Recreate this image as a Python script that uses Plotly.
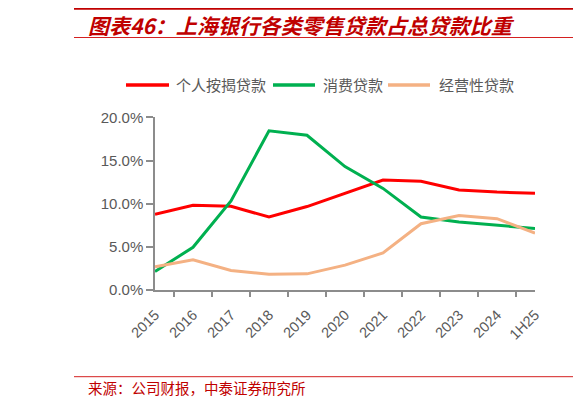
import plotly.graph_objects as go

W, H = 581, 405
OFF = 8  # page body margin of the browser

categories = ["2015", "2016", "2017", "2018", "2019", "2020", "2021", "2022", "2023", "2024", "1H25"]
mortgage = [0.0877, 0.0982, 0.0970, 0.0846, 0.0967, 0.1119, 0.1275, 0.1260, 0.1160, 0.1135, 0.1120]
consumer = [0.0214, 0.0495, 0.1033, 0.1844, 0.1793, 0.1430, 0.1177, 0.0846, 0.0788, 0.0749, 0.0713]
business = [0.0269, 0.0351, 0.0226, 0.0183, 0.0187, 0.0288, 0.0429, 0.0768, 0.0862, 0.0827, 0.0659]

series_names = ["个人按揭贷款", "消费贷款", "经营性贷款"]
colors = ["#FF0000", "#00B050", "#F4B183"]

def px(x):
    return (x - OFF) / W

def py(y):
    return 1 - (y - OFF) / H

fig = go.Figure()
for name, vals, c in zip(series_names, [mortgage, consumer, business], colors):
    fig.add_trace(go.Scatter(x=categories, y=vals, mode="lines", name=name,
                             line=dict(color=c, width=3), showlegend=False))

TICK = "#595959"
AX = "#8C8C8C"
fig.update_layout(
    width=W, height=H,
    margin=dict(l=0, r=0, t=0, b=0, autoexpand=False),
    paper_bgcolor="white", plot_bgcolor="white",
    xaxis=dict(domain=[px(155), px(535)], type="category", automargin=False,
               showline=True, linecolor=AX, linewidth=1.5,
               ticks="outside", tickson="boundaries", ticklen=5, tickcolor=AX, tickwidth=1.5,
               ticklabelstandoff=9,
               tickangle=-45, tickfont=dict(family="Liberation Sans, Arial", size=14.5, color=TICK),
               showgrid=False, zeroline=False),
    yaxis=dict(domain=[py(290), py(117.4)], range=[0, 0.2], dtick=0.05, tickformat=".1%",
               automargin=False,
               showline=True, linecolor=AX, linewidth=1.5,
               ticks="outside", ticklen=7, tickcolor=AX, tickwidth=1.5,
               tickfont=dict(family="Liberation Sans, Arial", size=15, color=TICK),
               showgrid=False, zeroline=False),
)

shapes = []
annotations = []
# title rules
shapes.append(dict(type="line", xref="paper", yref="paper", x0=px(74), x1=1, y0=py(8.5), y1=py(8.5),
                   line=dict(color="#C00000", width=2.5)))
shapes.append(dict(type="line", xref="paper", yref="paper", x0=px(74), x1=1, y0=py(37.5), y1=py(37.5),
                   line=dict(color="#D42020", width=1.2)))
annotations.append(dict(xref="paper", yref="paper", x=px(86), y=py(25), xanchor="left", yanchor="middle",
                        text="图表46：上海银行各类零售贷款占总贷款比重", showarrow=False,
                        font=dict(family="Noto Sans CJK SC", size=21, color="#C00000", weight="bold", style="italic")))
# footer
shapes.append(dict(type="line", xref="paper", yref="paper", x0=px(74), x1=1, y0=py(376.7), y1=py(376.7),
                   line=dict(color="#D42020", width=1)))
annotations.append(dict(xref="paper", yref="paper", x=px(86), y=py(387.5), xanchor="left", yanchor="middle",
                        text="来源：公司财报，中泰证券研究所", showarrow=False,
                        font=dict(family="Noto Sans CJK SC", size=14.5, color="#C00000")))
# legend
leg = [(126, 169, 174), (273, 315, 321), (388, 430, 437)]
for (x0, x1, tx), name, c in zip(leg, series_names, colors):
    shapes.append(dict(type="line", xref="paper", yref="paper", x0=px(x0), x1=px(x1), y0=py(85), y1=py(85),
                       line=dict(color=c, width=3.5)))
    annotations.append(dict(xref="paper", yref="paper", x=px(tx), y=py(85), xanchor="left", yanchor="middle",
                            text=name, showarrow=False,
                            font=dict(family="Noto Sans CJK SC", size=15, color=TICK)))
fig.update_layout(shapes=shapes, annotations=annotations)

fig.write_html("out.html")
